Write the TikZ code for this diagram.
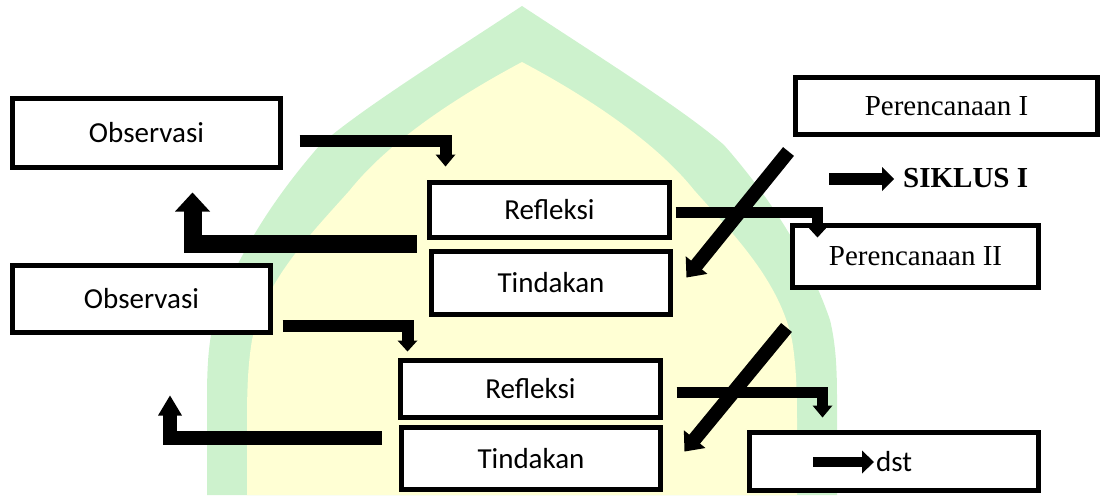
\documentclass[tikz,border=0pt]{standalone}
\usepackage{fontspec}
\setmainfont{Carlito}
\newfontfamily\tnr{Liberation Serif}
\usetikzlibrary{calc}
\definecolor{wmgreen}{RGB}{205,242,205}
\definecolor{wmyellow}{RGB}{255,255,212}
\newcommand\blockhead[3]{\fill ($(#1)!#3!90:(#2)$) -- (#2) -- ($(#1)!#3!-90:(#2)$) -- cycle;}
\begin{document}
\begin{tikzpicture}[x=1pt,y=-1pt,
  box/.style={draw=black, line width=5pt, fill=white, inner sep=0pt,
    font=\fontsize{29}{34}\selectfont},
  tbox/.style={box, font=\tnr\fontsize{29}{34}\selectfont},
  lbl/.style={anchor=west, inner sep=0pt, font=\fontsize{29}{34}\selectfont},
  shaft/.style={draw=black, line width=#1}]
\useasboundingbox (0,0) rectangle (1102,495);
% watermark
\fill[wmgreen] (522,6) .. controls (440,60) and (360,110) .. (320,145)
  .. controls (285,185) and (240,245) .. (214,320)
  .. controls (208,345) and (207,370) .. (207,400) -- (207,495) -- (837,495) -- (837,400)
  .. controls (837,370) and (836,345) .. (830,320)
  .. controls (804,245) and (759,185) .. (724,145)
  .. controls (684,110) and (604,60) .. (522,6) -- cycle;
\fill[wmyellow] (522,62) .. controls (460,95) and (390,140) .. (350,190)
  .. controls (310,235) and (265,280) .. (252,340)
  .. controls (247,370) and (247,400) .. (247,430) -- (247,495) -- (797,495) -- (797,430)
  .. controls (797,400) and (797,370) .. (792,340)
  .. controls (779,280) and (734,235) .. (694,190)
  .. controls (654,140) and (584,95) .. (522,62) -- cycle;
% boxes
\node[box, minimum width=268pt, minimum height=69pt] (obs1) at (146.5,133) {Observasi};
\node[box, minimum width=240pt, minimum height=55pt] (ref1) at (549.5,210) {Refleksi};
\node[box, minimum width=239pt, minimum height=63pt] (tin1) at (551,283) {Tindakan};
\node[tbox, minimum width=302pt, minimum height=57pt] (per1) at (946.5,106) {Perencanaan I};
\node[tbox, minimum width=246pt, minimum height=62pt] (per2) at (915.5,256.5) {Perencanaan II};
\node[box, minimum width=258pt, minimum height=67pt] (obs2) at (141.5,299) {Observasi};
\node[box, minimum width=260pt, minimum height=57pt] (ref2) at (530.5,389) {Refleksi};
\node[box, minimum width=259pt, minimum height=62pt] (tin2) at (531,458.5) {Tindakan};
\node[box, minimum width=289pt, minimum height=58pt] (dstbox) at (894,461.5) {};
\node[lbl] (dsttxt) at (876,462) {dst};
\node[lbl, font=\tnr\bfseries\fontsize{29}{34}\selectfont] (sik) at (903,178) {SIKLUS I};
% arrow Observasi 1 -> Refleksi 1
\coordinate (a1s) at ($(obs1.east)+(16.5,7.5)$);
\coordinate (a1t) at ($(ref1.north west)+(18.5,-13.5)$);
\coordinate (a1b) at ($(a1t)+(0,-12)$);
\draw[shaft=12pt] (a1s) -| ($(a1t)+(0,-11)$);
\blockhead{a1b}{a1t}{10pt}
% arrow Observasi 2 -> Refleksi 2
\coordinate (a2s) at ($(obs2.east)+(9.5,27)$);
\coordinate (a2t) at ($(ref2.north west)+(9.5,-6.5)$);
\coordinate (a2b) at ($(a2t)+(0,-11)$);
\draw[shaft=12pt] (a2s) -| ($(a2t)+(0,-10)$);
\blockhead{a2b}{a2t}{10pt}
% arrow Refleksi 1 -> Perencanaan II
\coordinate (a3s) at ($(ref1.east)+(3.5,2.5)$);
\coordinate (a3t) at ($(per2.north west)+(27.5,14.5)$);
\coordinate (a3b) at ($(a3t)+(0,-12)$);
\draw[shaft=11pt] (a3s) -| ($(a3t)+(0,-11)$);
\blockhead{a3b}{a3t}{11pt}
% arrow Refleksi 2 -> dst
\coordinate (a4s) at ($(ref2.east)+(13.5,3)$);
\coordinate (a4t) at ($(dstbox.north west)+(75.5,-12.5)$);
\coordinate (a4b) at ($(a4t)+(0,-12)$);
\draw[shaft=11pt] (a4s) -| ($(a4t)+(0,-11)$);
\blockhead{a4b}{a4t}{10pt}
% back arrow 1
\coordinate (b1s) at ($(ref1.south west)+(-10.5,4)$);
\coordinate (b1t) at ($(obs1.south west)+(182.5,22.5)$);
\coordinate (b1b) at ($(b1t)+(0,19)$);
\draw[shaft=18pt] (b1s) -| ($(b1t)+(0,18)$);
\blockhead{b1b}{b1t}{17.5pt}
% back arrow 2
\coordinate (b2s) at ($(tin2.north west)+(-17.5,12.5)$);
\coordinate (b2t) at ($(obs2.south west)+(160,60.5)$);
\coordinate (b2b) at ($(b2t)+(0,20)$);
\draw[shaft=14pt] (b2s) -| ($(b2t)+(0,19)$);
\blockhead{b2b}{b2t}{12pt}
% diagonal 1
\coordinate (d1s) at ($(per1.south west)+(-4.5,14.5)$);
\coordinate (d1t) at ($(tin1.north east)+(13.5,28.5)$);
\coordinate (d1b) at ($(d1t)!16pt!(d1s)$);
\draw[shaft=14pt] (d1s) -- ($(d1t)!15pt!(d1s)$);
\blockhead{d1b}{d1t}{14pt}
% diagonal 2
\coordinate (d2s) at ($(per2.south west)+(-3.5,37.5)$);
\coordinate (d2t) at ($(tin2.north east)+(21.5,26.5)$);
\coordinate (d2b) at ($(d2t)!16pt!(d2s)$);
\draw[shaft=14pt] (d2s) -- ($(d2t)!15pt!(d2s)$);
\blockhead{d2b}{d2t}{14pt}
% SIKLUS arrow
\coordinate (sikt) at ($(sik.west)+(-9,1)$);
\coordinate (sikb) at ($(sikt)+(-12,0)$);
\draw[shaft=12pt] ($(sikt)+(-65,0)$) -- ($(sikt)+(-11,0)$);
\blockhead{sikb}{sikt}{12pt}
% dst arrow
\coordinate (dstt) at ($(dsttxt.west)+(-2,0)$);
\coordinate (dstb) at ($(dstt)+(-12,0)$);
\draw[shaft=10.5pt] ($(dstt)+(-61,0)$) -- ($(dstt)+(-11,0)$);
\blockhead{dstb}{dstt}{11.5pt}
\end{tikzpicture}
\end{document}
